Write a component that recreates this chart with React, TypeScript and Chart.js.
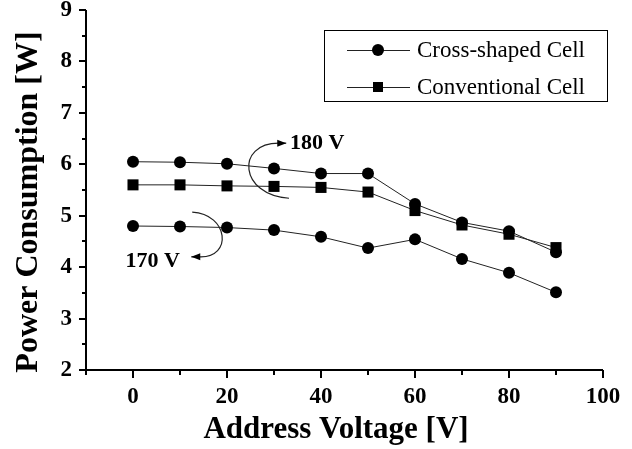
import { useEffect, useRef } from "react";
import { Chart, registerables } from "chart.js";

Chart.register(...registerables);

// Address voltage sweep [V]
const addressVoltage = [0, 10, 20, 30, 40, 50, 60, 70, 80, 90];

// Power consumption [W]
const crossShaped180 = [6.05, 6.04, 6.01, 5.92, 5.82, 5.82, 5.23, 4.87, 4.7, 4.29];
const conventional180 = [5.6, 5.6, 5.58, 5.57, 5.55, 5.46, 5.1, 4.82, 4.64, 4.38];
const crossShaped170 = [4.8, 4.79, 4.77, 4.72, 4.59, 4.37, 4.54, 4.16, 3.89, 3.51];

const seriesLabels = ["Cross-shaped Cell", "Conventional Cell"];

// Axis ticks
const xMajorTicks = [0, 20, 40, 60, 80, 100];
const xMinorTicks = [-10, 10, 30, 50, 70, 90];
const yMajorTicks = [2, 3, 4, 5, 6, 7, 8, 9];
const yMinorTicks = [2.5, 3.5, 4.5, 5.5, 6.5, 7.5, 8.5];

const SERIF = "'Liberation Serif', 'Times New Roman', serif";

// Curved arrows pointing from the sustain-voltage labels to their curves (data units)
type Note = {
  text: string;
  at: [number, number];
  align: CanvasTextAlign;
  curve: [number, number][];
  tip: [number, number];
};
const notes: Note[] = [
  {
    text: "180 V",
    at: [33.4, 6.41],
    align: "left",
    curve: [[33.2, 5.34], [22.6, 5.4], [21.8, 6.41], [31.0, 6.41]],
    tip: [32.6, 6.41],
  },
  {
    text: "170 V",
    at: [10.0, 4.11],
    align: "right",
    curve: [[12.6, 5.07], [20.4, 5.03], [21.2, 4.18], [14.2, 4.2]],
    tip: [12.4, 4.2],
  },
];

const axisFrame = {
  id: "axisFrame",
  afterDraw(chart: Chart) {
    const { ctx, chartArea } = chart;
    const xs = chart.scales.x;
    const ys = chart.scales.y;
    ctx.save();
    ctx.strokeStyle = "#000";
    ctx.lineWidth = 2;
    ctx.lineCap = "butt";
    ctx.beginPath();
    ctx.moveTo(chartArea.left, chartArea.top);
    ctx.lineTo(chartArea.left, chartArea.bottom);
    ctx.lineTo(chartArea.right, chartArea.bottom);
    ctx.stroke();
    const tick = (vals: number[], len: number, horizontal: boolean) => {
      ctx.beginPath();
      for (const v of vals) {
        if (horizontal) {
          const px = Math.round(xs.getPixelForValue(v));
          ctx.moveTo(px, chartArea.bottom);
          ctx.lineTo(px, chartArea.bottom + len);
        } else {
          const py = Math.round(ys.getPixelForValue(v));
          ctx.moveTo(chartArea.left, py);
          ctx.lineTo(chartArea.left - len, py);
        }
      }
      ctx.stroke();
    };
    tick(xMajorTicks, 8, true);
    tick(xMinorTicks, 5, true);
    tick(yMajorTicks, 7, false);
    tick(yMinorTicks, 4, false);
    ctx.restore();
  },
};

const axisTitles = {
  id: "axisTitles",
  afterDraw(chart: Chart) {
    const { ctx } = chart;
    ctx.save();
    ctx.fillStyle = "#000";
    ctx.font = `bold 31px ${SERIF}`;
    ctx.textAlign = "center";
    ctx.textBaseline = "alphabetic";
    ctx.fillText("Address Voltage [V]", 336, 438);
    ctx.font = `bold 32px ${SERIF}`;
    ctx.translate(37, 202);
    ctx.rotate(-Math.PI / 2);
    ctx.fillText("Power Consumption [W]", 0, 0);
    ctx.restore();
  },
};

const arrowNotes = {
  id: "arrowNotes",
  afterDatasetsDraw(chart: Chart) {
    const { ctx } = chart;
    const xs = chart.scales.x;
    const ys = chart.scales.y;
    const p = (d: [number, number]) => [xs.getPixelForValue(d[0]), ys.getPixelForValue(d[1])];
    ctx.save();
    for (const n of notes) {
      const [a, b, c, d] = n.curve.map(p);
      const tip = p(n.tip);
      ctx.strokeStyle = "#222";
      ctx.lineWidth = 1.2;
      ctx.beginPath();
      ctx.moveTo(a[0], a[1]);
      ctx.bezierCurveTo(b[0], b[1], c[0], c[1], d[0], d[1]);
      ctx.lineTo(tip[0], tip[1]);
      ctx.stroke();
      const ang = Math.atan2(tip[1] - d[1], tip[0] - d[0]);
      const L = 9;
      const W = 3.5;
      ctx.fillStyle = "#000";
      ctx.beginPath();
      ctx.moveTo(tip[0], tip[1]);
      ctx.lineTo(tip[0] - L * Math.cos(ang) - W * Math.sin(ang), tip[1] - L * Math.sin(ang) + W * Math.cos(ang));
      ctx.lineTo(tip[0] - L * Math.cos(ang) + W * Math.sin(ang), tip[1] - L * Math.sin(ang) - W * Math.cos(ang));
      ctx.closePath();
      ctx.fill();
      const at = p(n.at);
      ctx.font = `bold 22px ${SERIF}`;
      ctx.textAlign = n.align;
      ctx.textBaseline = "middle";
      ctx.fillText(n.text, at[0], at[1]);
    }
    ctx.restore();
  },
};

const legendBox = {
  id: "legendBox",
  afterDraw(chart: Chart) {
    const { ctx } = chart;
    ctx.save();
    ctx.strokeStyle = "#000";
    ctx.lineWidth = 1;
    ctx.strokeRect(324.5, 30.5, 283, 71);
    const rows = [50, 87];
    seriesLabels.forEach((label, i) => {
      const y = rows[i];
      const ds = chart.data.datasets[i] as any;
      ctx.strokeStyle = "#222";
      ctx.lineWidth = 1;
      ctx.beginPath();
      ctx.moveTo(347, y + 0.5);
      ctx.lineTo(410, y + 0.5);
      ctx.stroke();
      ctx.fillStyle = "#000";
      ctx.beginPath();
      if (ds.pointStyle === "rect") {
        ctx.rect(373, y - 5, 10, 10);
      } else {
        ctx.arc(378, y, 6, 0, Math.PI * 2);
      }
      ctx.fill();
      ctx.font = `23px ${SERIF}`;
      ctx.textAlign = "left";
      ctx.textBaseline = "middle";
      ctx.fillText(label, 417, y + 1);
    });
    ctx.restore();
  },
};

export default function App() {
  const canvasRef = useRef<HTMLCanvasElement | null>(null);

  useEffect(() => {
    const canvas = canvasRef.current;
    if (!canvas) return;
    const toPoints = (ys: number[]) => addressVoltage.map((x, i) => ({ x, y: ys[i] }));
    const lineStyle = {
      borderColor: "#222",
      borderWidth: 1,
      backgroundColor: "#000",
      pointBackgroundColor: "#000",
      pointBorderWidth: 0,
      fill: false,
      tension: 0,
    };
    const tickFont = { family: SERIF, size: 23, weight: "bold" as const, lineHeight: 1.2 };
    const chart = new Chart(canvas, {
      type: "line",
      data: {
        datasets: [
          { label: seriesLabels[0], data: toPoints(crossShaped180), pointStyle: "circle", pointRadius: 6, ...lineStyle },
          { label: seriesLabels[1], data: toPoints(conventional180), pointStyle: "rect", pointRadius: 7.8, ...lineStyle },
          { label: seriesLabels[0], data: toPoints(crossShaped170), pointStyle: "circle", pointRadius: 6, ...lineStyle },
        ],
      },
      options: {
        responsive: false,
        animation: false,
        layout: { padding: { top: 10, right: 29, left: 0, bottom: 0 } },
        plugins: { legend: { display: false }, tooltip: { enabled: false } },
        scales: {
          x: {
            type: "linear",
            min: -10,
            max: 100,
            afterBuildTicks: (s: any) => {
              s.ticks = xMajorTicks.map((value) => ({ value }));
            },
            afterFit: (s: any) => {
              s.height = 79;
              s.paddingLeft = 0;
              s.paddingRight = 0;
            },
            grid: { display: false, drawTicks: false },
            border: { display: false },
            ticks: { font: tickFont, color: "#000", padding: 13, maxRotation: 0, autoSkip: false },
          },
          y: {
            type: "linear",
            min: 2,
            max: 9,
            afterBuildTicks: (s: any) => {
              s.ticks = yMajorTicks.map((value) => ({ value }));
            },
            afterFit: (s: any) => {
              s.width = 86;
              s.paddingTop = 0;
              s.paddingBottom = 0;
            },
            grid: { display: false, drawTicks: false },
            border: { display: false },
            ticks: { font: tickFont, color: "#000", padding: 14 },
          },
        },
      },
      plugins: [axisFrame, axisTitles, arrowNotes, legendBox],
    });
    return () => chart.destroy();
  }, []);

  return (
    <div style={{ position: "absolute", left: 0, top: 0, width: 632, height: 449, background: "#fff" }}>
      <canvas ref={canvasRef} width={632} height={449} />
    </div>
  );
}
